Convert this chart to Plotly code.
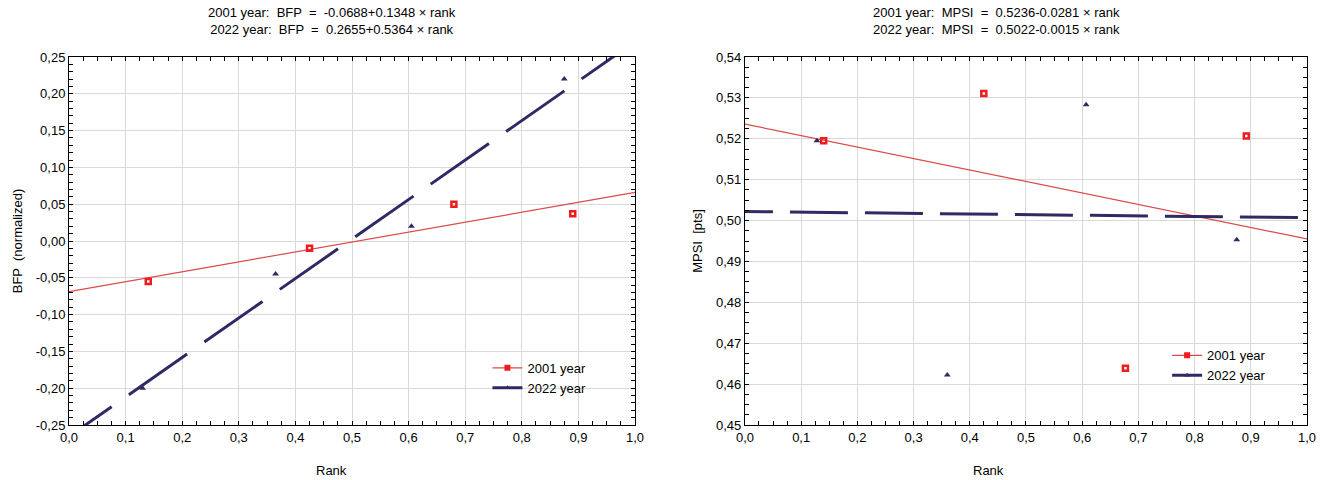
import plotly.graph_objects as go

# rank of each unit
rank_2001_bfp = [0.14, 0.425, 0.68, 0.89]
bfp_2001 = [-0.055, -0.010, 0.050, 0.037]
rank_2022_bfp = [0.13, 0.365, 0.605, 0.875]
bfp_2022 = [-0.200, -0.045, 0.020, 0.220]

rank_2001_mpsi = [0.14, 0.425, 0.677, 0.892]
mpsi_2001 = [0.5195, 0.5311, 0.4639, 0.5207]
rank_2022_mpsi = [0.128, 0.36, 0.607, 0.875]
mpsi_2022 = [0.5195, 0.4622, 0.5283, 0.4953]

# regression coefficients (intercept, slope)
fit_bfp_2001 = (-0.0688, 0.1348)
fit_bfp_2022 = (-0.2655, 0.5364)
fit_mpsi_2001 = (0.5236, -0.0281)
fit_mpsi_2022 = (0.5022, -0.0015)

rank_range = [0.0, 1.0]

bfp_ticks = [-0.25, -0.20, -0.15, -0.10, -0.05, 0.0, 0.05, 0.10, 0.15, 0.20, 0.25]
bfp_labels = [f"{v:.2f}".replace(".", ",") for v in bfp_ticks]
mpsi_ticks = [0.45, 0.46, 0.47, 0.48, 0.49, 0.50, 0.51, 0.52, 0.53, 0.54]
mpsi_labels = [f"{v:.2f}".replace(".", ",") for v in mpsi_ticks]
rank_ticks = [0.0, 0.1, 0.2, 0.3, 0.4, 0.5, 0.6, 0.7, 0.8, 0.9, 1.0]
rank_labels = [f"{v:.1f}".replace(".", ",") for v in rank_ticks]

RED = '#ee1c1c'
RED_LINE = '#dd4a4a'
NAVY = '#2f2a63'
FONT = 'Liberation Sans Narrow, Arial Narrow, Liberation Sans, Arial, sans-serif'


def fit_line(coef):
    return [coef[0] + coef[1] * r for r in rank_range]


def dash_pattern(first, dash, gap, n=12):
    # long dashes, with the first one shortened so the phase matches
    parts = [first, gap] + [dash, gap] * n
    return ','.join(f'{p}px' for p in parts)


fig = go.Figure()

panels = [
    ('x', 'y', 'legend', rank_2001_bfp, bfp_2001, rank_2022_bfp, bfp_2022,
     fit_bfp_2001, fit_bfp_2022, dash_pattern(52, 71, 21)),
    ('x2', 'y2', 'legend2', rank_2001_mpsi, mpsi_2001, rank_2022_mpsi, mpsi_2022,
     fit_mpsi_2001, fit_mpsi_2022, dash_pattern(28, 58, 17)),
]

for xa, ya, leg, rx1, v1, rx2, v2, f1, f2, dash in panels:
    fig.add_trace(go.Scatter(x=rank_range, y=fit_line(f1), mode='lines',
                             line=dict(color=RED_LINE, width=1.2),
                             xaxis=xa, yaxis=ya, showlegend=False, hoverinfo='skip'))
    fig.add_trace(go.Scatter(x=rank_range, y=fit_line(f2), mode='lines',
                             line=dict(color=NAVY, width=3, dash=dash),
                             xaxis=xa, yaxis=ya, showlegend=False, hoverinfo='skip'))
    fig.add_trace(go.Scatter(x=rx1, y=v1, mode='markers',
                             marker=dict(symbol='square-open', size=5, color=RED,
                                         line=dict(width=2.5, color=RED)),
                             xaxis=xa, yaxis=ya, showlegend=False))
    fig.add_trace(go.Scatter(x=rx2, y=v2, mode='markers',
                             marker=dict(symbol='triangle-up', size=6, color=NAVY),
                             xaxis=xa, yaxis=ya, showlegend=False))
    # legend entries
    fig.add_trace(go.Scatter(x=[None], y=[None], mode='lines+markers', name='2001 year',
                             line=dict(color=RED_LINE, width=1.2),
                             marker=dict(symbol='square', size=6, color=RED),
                             xaxis=xa, yaxis=ya, legend=leg))
    fig.add_trace(go.Scatter(x=[None], y=[None], mode='lines+markers', name='2022 year',
                             line=dict(color=NAVY, width=3),
                             marker=dict(symbol='triangle-up', size=5, color=NAVY),
                             xaxis=xa, yaxis=ya, legend=leg))

axis_common = dict(
    showline=True, linecolor='black', linewidth=1, mirror='allticks',
    ticks='inside', ticklen=4, tickcolor='black',
    showgrid=True, gridcolor='#d9d9d9', gridwidth=1, zeroline=False,
    tickfont=dict(size=13, color='black'),
)


def minor(step):
    return dict(tickmode='linear', tick0=0, dtick=step, ticks='inside',
                ticklen=4, tickcolor='black', showgrid=False)


# page body has an 8px margin, so the figure is shifted by that much
fig.update_layout(
    width=1317, height=472,
    margin=dict(l=57, r=9, t=49, b=55),
    paper_bgcolor='white', plot_bgcolor='white',
    font=dict(family=FONT, size=13, color='black'),
    xaxis=dict(domain=[0, 0.4572], range=[0, 1], tickmode='array',
               tickvals=rank_ticks, ticktext=rank_labels,
               minor=minor(0.025), **axis_common),
    yaxis=dict(range=[-0.25, 0.25], tickmode='array',
               tickvals=bfp_ticks, ticktext=bfp_labels,
               title=dict(text='BFP  (normalized)', standoff=10, font=dict(size=13)),
               minor=minor(0.01), **axis_common),
    xaxis2=dict(domain=[0.546, 1], range=[0, 1], anchor='y2', tickmode='array',
                tickvals=rank_ticks, ticktext=rank_labels,
                minor=minor(0.025), **axis_common),
    yaxis2=dict(range=[0.45, 0.54], anchor='x2', tickmode='array',
                tickvals=mpsi_ticks, ticktext=mpsi_labels,
                title=dict(text='MPSI  [pts]', standoff=10, font=dict(size=13)),
                minor=minor(0.0025), **axis_common),
    legend=dict(x=0.338, y=0.196, xanchor='left', yanchor='top',
                bgcolor='rgba(0,0,0,0)', font=dict(size=13), tracegroupgap=0),
    legend2=dict(x=0.887, y=0.23, xanchor='left', yanchor='top',
                 bgcolor='rgba(0,0,0,0)', font=dict(size=13), tracegroupgap=0),
    annotations=[
        dict(text='2001 year:  BFP  =  -0.0688+0.1348 × rank<br>2022 year:  BFP  =  0.2655+0.5364 × rank',
             xref='paper', yref='paper', x=0.2126, y=1.098, showarrow=False,
             xanchor='center', yanchor='middle', font=dict(size=13)),
        dict(text='2001 year:  MPSI  =  0.5236-0.0281 × rank<br>2022 year:  MPSI  =  0.5022-0.0015 × rank',
             xref='paper', yref='paper', x=0.749, y=1.098, showarrow=False,
             xanchor='center', yanchor='middle', font=dict(size=13)),
        dict(text='Rank', xref='paper', yref='paper', x=0.2118, y=-0.1223,
             showarrow=False, xanchor='center', yanchor='middle', font=dict(size=13)),
        dict(text='Rank', xref='paper', yref='paper', x=0.7426, y=-0.1223,
             showarrow=False, xanchor='center', yanchor='middle', font=dict(size=13)),
    ],
)

fig.write_html("out.html")
